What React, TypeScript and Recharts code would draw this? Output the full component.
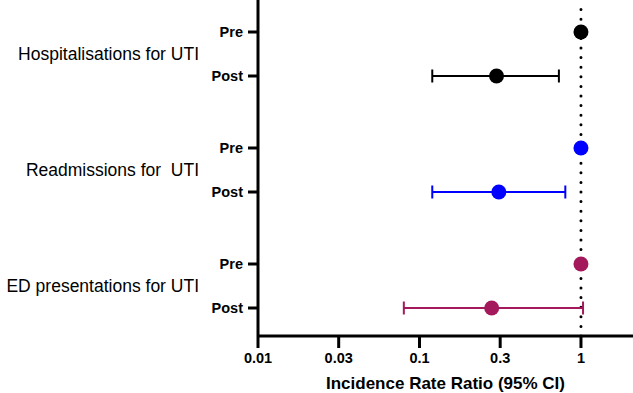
import { ScatterChart, Scatter, XAxis, YAxis, ErrorBar, ReferenceLine } from "recharts";

const FONT = '"Liberation Sans", Arial, Helvetica, sans-serif';

const groupNames = ["Hospitalisations for UTI", "Readmissions for  UTI", "ED presentations for UTI"];
const periods = ["Pre", "Post"];
const preIrr = [1, 1, 1];
const postIrr = [0.3, 0.31, 0.28];
const postLower = [0.12, 0.12, 0.08];
const postUpper = [0.73, 0.8, 1.03];
const groupColors = ["#000000", "#0000ff", "#a3195b"];

const xTickValues = [0.01, 0.0316, 0.1, 0.316, 1];
const xTickLabels = ["0.01", "0.03", "0.1", "0.3", "1"];
const xTitle = "Incidence Rate Ratio (95% CI)";

// rows are laid out on a 0..Y_MAX scale, top to bottom
const FIRST_ROW = 2;
const GROUP_STEP = 7.25;
const PRE_POST_GAP = 2.75;
const Y_MAX = 21;

const rowY = (g: number, p: number) => FIRST_ROW + g * GROUP_STEP + p * PRE_POST_GAP;

const seriesData = groupNames.map((_, g) => [
  { irr: preIrr[g], row: rowY(g, 0) },
  { irr: postIrr[g], row: rowY(g, 1), ci: [postIrr[g] - postLower[g], postUpper[g] - postIrr[g]] },
]);

const rowTicks = groupNames.flatMap((_, g) => periods.map((_, p) => rowY(g, p)));
const groupTicks = groupNames.map((_, g) => rowY(g, 0) + PRE_POST_GAP / 2);

const GroupTick = ({ x, y, payload }: any) => (
  <text x={x} y={y} dy="0.35em" textAnchor="end" fill="#000" fontSize={17.5} fontFamily={FONT}
    style={{ whiteSpace: "pre" }}>
    {groupNames[groupTicks.indexOf(payload.value)]}
  </text>
);

const dot = (color: string) => (props: any) => <circle cx={props.cx} cy={props.cy} r={7.5} fill={color} />;

export default function App() {
  return (
    <div style={{ position: "absolute", left: 0, top: 0, width: 633, height: 393, background: "#fff" }}>
      <ScatterChart width={633} height={393} margin={{ top: 0, right: 0, bottom: 0, left: 0 }}>
        <XAxis type="number" dataKey="irr" scale="log" domain={[0.01, 2.1]} allowDataOverflow
          ticks={xTickValues} interval={0}
          tickFormatter={(v: number) => xTickLabels[xTickValues.indexOf(v)]}
          axisLine={{ stroke: "#000", strokeWidth: 3 }} tickLine={{ stroke: "#000", strokeWidth: 3 }}
          tickSize={12} tickMargin={5} height={57}
          tick={{ fill: "#000", fontSize: 14.5, fontWeight: 700, fontFamily: FONT }}
          label={{ value: xTitle, position: "insideBottom", offset: 4, fill: "#000", fontSize: 17, fontWeight: 700, fontFamily: FONT }} />
        <YAxis type="number" dataKey="row" domain={[0, Y_MAX]} reversed allowDataOverflow
          ticks={rowTicks} interval={0} width={58} tickSize={10} tickMargin={5}
          tickFormatter={(v: number) => periods[rowTicks.indexOf(v) % 2]}
          axisLine={{ stroke: "#000", strokeWidth: 3 }} tickLine={{ stroke: "#000", strokeWidth: 3 }}
          tick={{ fill: "#000", fontSize: 14.5, fontWeight: 700, fontFamily: FONT }} />
        <YAxis yAxisId="g" type="number" domain={[0, Y_MAX]} reversed allowDataOverflow
          ticks={groupTicks} interval={0} width={200} tickSize={0} tickMargin={1}
          axisLine={false} tickLine={false} tick={(p: any) => <GroupTick {...p} />} />
        <ReferenceLine x={1} stroke="#000" strokeWidth={3} strokeDasharray="0 9.6" strokeLinecap="round" />
        {seriesData.map((data, g) => (
          <Scatter key={groupNames[g]} data={data} isAnimationActive={false} shape={dot(groupColors[g])}>
            <ErrorBar dataKey="ci" direction="x" width={6.5} strokeWidth={2} stroke={groupColors[g]}
              isAnimationActive={false} />
          </Scatter>
        ))}
      </ScatterChart>
    </div>
  );
}
